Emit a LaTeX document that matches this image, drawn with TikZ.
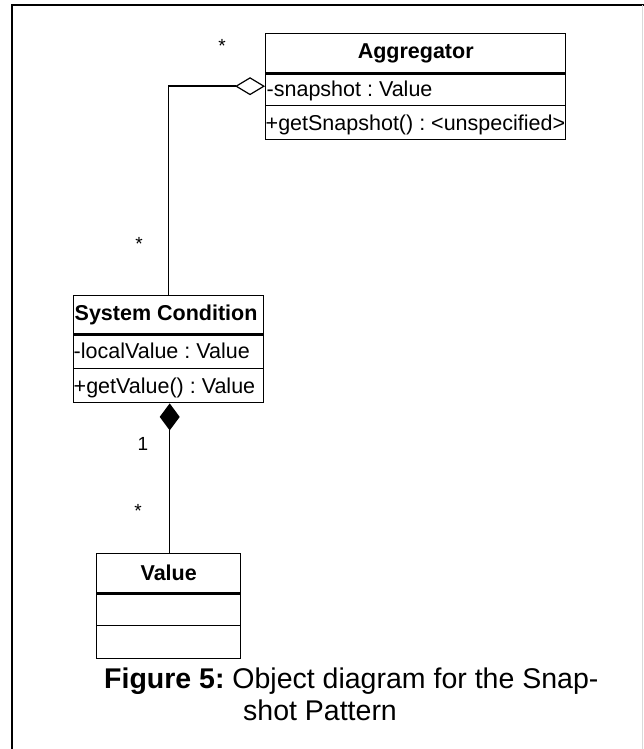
\documentclass[tikz,border=0pt]{standalone}
\usepackage{fontspec}
\setmainfont{Liberation Sans}
\usetikzlibrary{arrows.meta}
\frenchspacing
\hbadness=10000 \hfuzz=100pt
\tikzset{
  comp/.style={draw, line width=1.4pt, rectangle, inner sep=0pt, anchor=north west},
  namecomp/.style={comp, font=\fontsize{21.5}{23}\selectfont\bfseries},
  attrcomp/.style={comp, font=\fontsize{21.5}{23}\selectfont, text depth=0pt},
  mult/.style={font=\fontsize{19}{21}\selectfont, inner sep=0pt},
  conn/.style={line width=1.4pt},
  caption/.style={font=\fontsize{28.5}{32}\selectfont, align=left, inner sep=0pt, anchor=north west}
}
\begin{document}
\begin{tikzpicture}[x=1pt,y=-1pt]
\useasboundingbox (0,0) rectangle (644,749);
% frame
\draw[line width=2.6pt] (12,749) -- (12,5) -- (644,5);
\draw[line width=0.8pt, black!15] (642.5,5) -- (642.5,749);

% Aggregator
\node[namecomp, minimum width=300pt, minimum height=39pt] (aggname) at (265,33) {Aggregator};
\node[attrcomp, minimum width=300pt, minimum height=33pt] (aggattr) at (265,72) {\makebox[300pt][l]{\hspace*{1pt}-snapshot : Value}};
\node[attrcomp, minimum width=300pt, minimum height=34pt] (aggop) at (265,105) {\makebox[300pt][l]{+getSnapshot() : <unspecified>}};
\draw[line width=2.4pt] (aggname.south west) -- (aggname.south east);

% System Condition
\node[namecomp, minimum width=190pt, minimum height=38pt] (sysname) at (73,295) {\makebox[190pt][l]{\hspace*{1pt}System Condition}};
\node[attrcomp, minimum width=190pt, minimum height=35pt] (sysattr) at (73,333) {\makebox[190pt][l]{-localValue : Value}};
\node[attrcomp, minimum width=190pt, minimum height=34pt] (sysop) at (73,368) {\makebox[190pt][l]{+getValue() : Value}};
\draw[line width=2.4pt] (sysname.south west) -- (sysname.south east);

% Value
\node[namecomp, minimum width=144pt, minimum height=39pt] (valname) at (96,553) {Value};
\node[attrcomp, minimum width=144pt, minimum height=33pt] (valattr) at (96,592) {};
\node[attrcomp, minimum width=144pt, minimum height=33pt] (valop) at (96,625) {};
\draw[line width=2.4pt] (valname.south west) -- (valname.south east);

% connectors
\coordinate (aggend) at ([yshift=3pt]aggattr.west);
\draw[conn, -{Diamond[open, length=30pt, width=18pt, line width=1.2pt]}] (sysname.north) |- (aggend);
\draw[conn, {Diamond[length=27pt, width=20pt]}-] ([xshift=1pt]sysop.south) -- ([xshift=1pt]valname.north);

% multiplicities
\node[mult] (m1) at (222,46) {*};
\node[mult] (m2) at (139,244) {*};
\node[mult] (m3) at (143,444) {1};
\node[mult] (m4) at (138,511) {*};

% caption
\node[caption] (cap) at (104,668) {\textbf{Figure 5:} Object diagram for the Snap-\\\hspace*{139pt}shot Pattern};
\end{tikzpicture}
\end{document}
